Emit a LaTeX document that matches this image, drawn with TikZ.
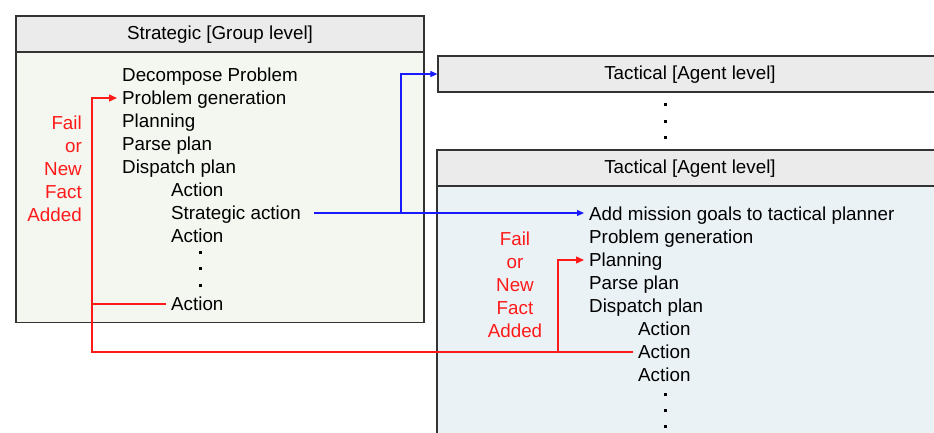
\documentclass[tikz,border=0pt]{standalone}
\usepackage{fontspec}
\setmainfont{Liberation Sans}
\usetikzlibrary{arrows.meta}
\definecolor{hdrgray}{HTML}{EBEBEB}
\definecolor{stratfill}{HTML}{F3F7EF}
\definecolor{tactfill}{HTML}{EBF2F5}
\definecolor{failred}{HTML}{FF1A1A}
\definecolor{goblue}{HTML}{1A1AFF}
\tikzset{
  boxline/.style={draw=black!80, line width=1.2pt},
  hdr/.style={boxline, fill=hdrgray, inner sep=0pt, text height=15pt, text depth=4pt},
  item/.style={anchor=west, inner xsep=5pt, inner ysep=0pt, text height=16pt, text depth=3pt},
  faillbl/.style={text=failred, inner sep=0pt},
  dotmark/.style={fill=black, minimum size=3pt, inner sep=0pt},
  failline/.style={draw=failred, line width=1.3pt, >={Triangle[length=8pt,width=7pt]}},
  goline/.style={draw=goblue, line width=1.1pt}
}
\begin{document}
\begin{tikzpicture}[x=1pt, y=-1pt, font=\fontsize{18.8}{23}\selectfont, line join=miter, >={Triangle[length=7pt,width=6pt]}]
			\useasboundingbox (0,0) rectangle (934,432);
			\clip (0,0) rectangle (934,432);
			% strategic box
			\node[boxline, fill=stratfill, minimum width=408pt, minimum height=270pt, anchor=north] (stratBody) at (220,52) {};
			\node[hdr, minimum width=408pt, minimum height=36pt] (stratHead) at (220,34) {Strategic [Group level]};
			% tactical boxes
			\node[hdr, minimum width=504pt, minimum height=36pt] (tacA) at (690,74) {Tactical [Agent level]};
			\node[boxline, fill=tactfill, minimum width=506pt, minimum height=280pt, anchor=north] (tacBody) at (690,186) {};
			\node[hdr, minimum width=506pt, minimum height=36pt] (tacB) at (690,168) {Tactical [Agent level]};
			\foreach \y [count=\i] in {104,121,137}
				\node[dotmark] (gap\i) at (665,\y) {};
			% strategic steps
			\foreach \t [count=\i] in {Decompose Problem, Problem generation, Planning, Parse plan, Dispatch plan}
				\node[item] (s\i) at (117,{52+23*\i}) {\t};
			\foreach \t [count=\i from 6] in {Action, Strategic action, Action}
				\node[item] (s\i) at (166,{52+23*\i}) {\t};
			\foreach \y [count=\i] in {252,268,285}
				\node[dotmark] (sd\i) at (200,\y) {};
			\node[item] (s9) at (166,304) {Action};
			\node[faillbl, align=right, anchor=east] (failS) at (82,168.5) {Fail\\or\\New\\Fact\\Added};
			% tactical steps
			\foreach \t [count=\i] in {Add mission goals to tactical planner, Problem generation, Planning, Parse plan, Dispatch plan}
				\node[item] (t\i) at (584,{191+23*\i}) {\t};
			\foreach \t [count=\i from 6] in {Action, Action, Action}
				\node[item] (t\i) at (633,{191+23*\i}) {\t};
			\foreach \y [count=\i] in {394,410,426}
				\node[dotmark] (td\i) at (665,\y) {};
			\node[faillbl, align=center] (failT) at (515,284.5) {Fail\\or\\New\\Fact\\Added};
			% connectors
			\coordinate (redbus) at (92,0);
			\coordinate (tbus) at (558,0);
			\coordinate (bluebus) at (401,0);
			\draw[failline,->] (t7.west) -- (t7.west -| redbus) |- (s2.west);
			\draw[failline] (s9.west) -- (s9.west -| redbus);
			\draw[failline,->] (t7.west -| tbus) |- (t3.west);
			\draw[goline,->,shorten <=8pt] (s7.east) -- (s7.east -| t1.west);
			\draw[goline,->] (s7.east -| bluebus) |- (tacA.west);
		\end{tikzpicture}
\end{document}
